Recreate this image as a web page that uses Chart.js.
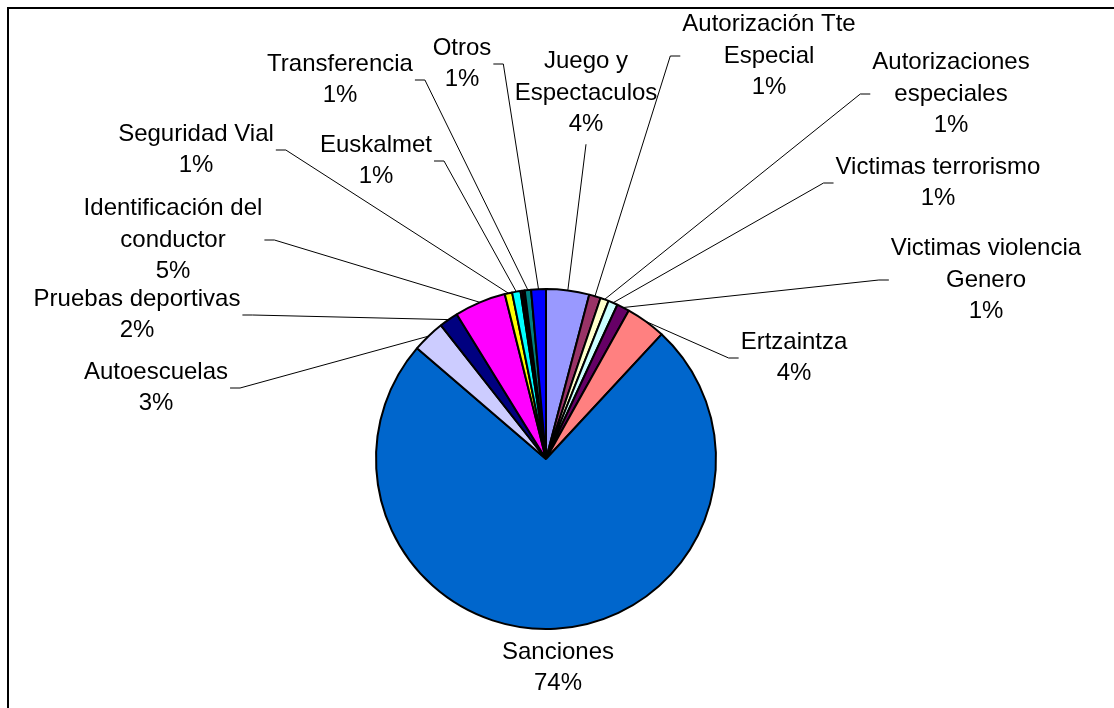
<!DOCTYPE html>
<html>
<head>
<meta charset="utf-8">
<title>Distribución</title>
<script src="https://cdn.jsdelivr.net/npm/chart.js@4/dist/chart.umd.min.js"></script>
<style>
    html, body { margin: 0; padding: 0; background: #fff; overflow: hidden; }
    #wrap { position: relative; width: 1114px; height: 708px; }
</style>
</head>
<body>
<div id="wrap"><canvas id="pieChart" width="1114" height="708"></canvas></div>
<script>
// categories (line breaks as in the chart labels), clockwise from 12 o'clock
const categories = [
    'Juego y\nEspectaculos',
    'Autorización Tte\nEspecial',
    'Autorizaciones\nespeciales',
    'Victimas terrorismo',
    'Victimas violencia\nGenero',
    'Ertzaintza',
    'Sanciones',
    'Autoescuelas',
    'Pruebas deportivas',
    'Identificación del\nconductor',
    'Seguridad Vial',
    'Euskalmet',
    '',
    '',
    'Transferencia',
    'Otros'
];

// share of each category (%)
const values = [4.1, 1.1, 0.8, 0.9, 1.2, 3.8, 74.4, 3.1, 1.8, 4.9, 0.7, 0.8, 0.2, 0.2, 0.6, 1.4];

// default office palette
const colors = ['#9999FF', '#993366', '#FFFFCC', '#CCFFFF', '#660066', '#FF8080', '#0066CC', '#CCCCFF',
                '#000080', '#FF00FF', '#FFFF00', '#00FFFF', '#800080', '#800000', '#008080', '#0000FF'];

// where each label box sits (centre of text block), same order as categories
const labelPos = [
    [586, 93], [769, 56], [951, 94], [938, 183], [986, 280], [794, 358], [558, 668],
    [156, 388], [137, 315], [173, 240], [196, 150], [376, 161], null, null, [340, 80], [462, 64]
];

const FONT = '24px "Liberation Sans", Arial, sans-serif';
const LINE_H = 31.5;

// outer frame
const framePlugin = {
    id: 'frame',
    beforeDraw(chart) {
        const ctx = chart.ctx;
        ctx.save();
        ctx.fillStyle = '#fff';
        ctx.fillRect(0, 0, chart.width, chart.height);
        ctx.strokeStyle = '#000';
        ctx.lineWidth = 2;
        ctx.strokeRect(8, 8, chart.width + 50, chart.height + 50);
        ctx.restore();
    }
};

// data labels with leader lines
const labelPlugin = {
    id: 'pieLabels',
    afterDraw(chart) {
        const ctx = chart.ctx;
        const meta = chart.getDatasetMeta(0);
        const total = values.reduce((a, b) => a + b, 0);
        ctx.save();
        ctx.font = FONT;
        ctx.fillStyle = '#000';
        ctx.strokeStyle = '#000';
        ctx.lineWidth = 1;
        ctx.textAlign = 'center';
        ctx.textBaseline = 'middle';

        meta.data.forEach((arc, i) => {
            if (!categories[i] || !labelPos[i]) return;
            const lines = categories[i].split('\n');
            lines.push(Math.round(values[i] / total * 100) + '%');
            const [cx, cy] = labelPos[i];

            let w = 0;
            lines.forEach(t => { w = Math.max(w, ctx.measureText(t).width); });
            const h = lines.length * LINE_H;
            const box = { l: cx - w / 2 - 2, r: cx + w / 2 + 2, t: cy - h / 2, b: cy + h / 2 };

            // point on the rim, middle of the slice
            const p = arc.getProps(['x', 'y', 'startAngle', 'endAngle', 'outerRadius'], true);
            const mid = (p.startAngle + p.endAngle) / 2;
            const px = p.x + Math.cos(mid) * p.outerRadius;
            const py = p.y + Math.sin(mid) * p.outerRadius;

            ctx.beginPath();
            if (px >= box.l && px <= box.r) {
                const sy = py > box.b ? box.b + 4 : box.t - 4;
                if (Math.abs(py - sy) > 15) {
                    ctx.moveTo(cx, sy);
                    ctx.lineTo(px, py);
                }
            } else {
                const right = px > box.r;
                const sx = right ? box.r : box.l;
                const tick = right ? 10 : -10;
                ctx.moveTo(sx, cy);
                ctx.lineTo(sx + tick, cy);
                ctx.lineTo(px, py);
            }
            ctx.stroke();

            lines.forEach((t, k) => {
                ctx.fillText(t, cx, box.t + LINE_H * (k + 0.5));
            });
        });
        ctx.restore();
    }
};

new Chart(document.getElementById('pieChart'), {
    type: 'pie',
    data: {
        labels: categories,
        datasets: [{
            data: values,
            backgroundColor: colors,
            borderColor: '#000',
            borderWidth: 2
        }]
    },
    options: {
        responsive: false,
        animation: false,
        layout: {
            padding: { left: 375, right: 397, top: 288, bottom: 78 }
        },
        plugins: {
            legend: { display: false },
            tooltip: { enabled: false }
        }
    },
    plugins: [framePlugin, labelPlugin]
});
</script>
</body>
</html>
